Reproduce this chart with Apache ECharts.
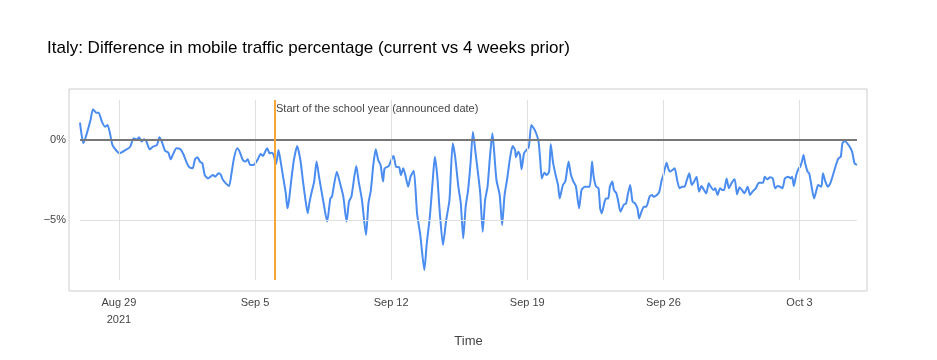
<!DOCTYPE html>
<html>
<head>
<meta charset="utf-8">
<script src="https://cdn.jsdelivr.net/npm/echarts@6/dist/echarts.min.js"></script>
<style>
html,body{margin:0;padding:0;background:#fff;}
#chart{width:937px;height:360px;}
</style>
</head>
<body>
<div id="chart"></div>
<script>
// Hours after 2021-08-27 00:00 UTC
const hours = [0,4,7,13,16,20,23,27,31,34,37,40,45,49,56,62,66,70,73,76,79,82,86,90,95,98,101,105,109,112,115,119,124,128,132,135,139,142,145,148,151,154,158,161,164,167,171,174,176,180,184,187,190,194,197,201,204,207,210,214,217,220,223,226,228,231,234,237,239,242,245,248,251,254,256,258,261,264,268,272,275,278,281,283,286,289,292,295,300,305,309,311,317,321,325,329,332,335,341,344,348,353,356,359,362,365,368,371,374,376,381,385,387,390,394,396,399,402,405,408,412,416,420,425,428,432,436,438,441,444,448,452,456,460,463,467,470,473,476,479,482,485,488,492,494,497,500,503,506,509,511,514,518,521,524,527,531,534,537,538,541,543,545,548,551,554,557,560,563,566,568,570,573,576,579,581,584,588,590,592,596,599,603,606,609,612,616,619,623,629,632,634,637,640,642,644,647,649,652,654,657,659,662,664,667,671,674,676,679,682,685,688,690,693,696,699,703,706,708,712,715,718,720,722,724,726,728,731,734,737,740,743,746,749,752,755,758,761,764,767,769,773,776,778,782,784,787,790,793,795,798,801,804,808,811,814,817,820,824,827,830,834,838,843,845,848,852,855,858,861,864,867,870,874,877,879,881,884,887,889,891,893,895,898,900,903,906,909,911,915,917,920,923,926,930,933,936,939,941,944,947,950,953,956,959];
const values = [1.08,-0.2,0.17,1.25,1.92,1.71,1.71,1.15,0.83,0.94,0.42,-0.31,-0.67,-0.83,-0.63,-0.42,0.1,0.04,0.17,-0.1,0.04,-0.1,-0.58,-0.42,-0.31,0.17,-0.1,-0.67,-0.79,-1.21,-0.88,-0.52,-0.58,-0.94,-1.46,-1.71,-1.77,-1.2,-1.08,-1.35,-1.46,-2.19,-2.4,-2.29,-2.19,-2.29,-2.08,-2.19,-2.46,-2.71,-2.88,-2.08,-1.15,-0.52,-0.73,-1.25,-1.35,-1.21,-1.56,-1.56,-1.42,-1.15,-0.88,-1.0,-0.79,-0.52,-0.83,-0.79,-0.94,-1.5,-0.63,-1.46,-2.4,-3.33,-4.27,-3.75,-2.4,-1.25,-0.38,-1.25,-2.5,-3.65,-4.58,-3.96,-3.23,-2.6,-1.35,-2.29,-3.75,-5.1,-3.65,-3.54,-1.98,-2.71,-3.54,-5.1,-3.85,-3.54,-1.63,-2.6,-3.75,-5.94,-3.96,-3.13,-1.56,-0.58,-1.25,-1.56,-2.6,-1.77,-1.63,-1.15,-1.0,-1.67,-1.71,-2.19,-1.77,-2.29,-2.92,-2.29,-1.92,-4.58,-5.94,-8.13,-6.46,-4.69,-2.08,-1.04,-2.29,-4.48,-6.56,-5.0,-3.75,-0.21,-1.04,-2.92,-3.96,-6.15,-4.17,-3.13,-1.46,0.52,-0.73,-2.4,-3.33,-5.73,-3.75,-2.92,-1.04,0.42,-0.63,-2.5,-3.44,-5.31,-3.44,-2.5,-1.04,-0.38,-0.63,-1.08,-0.73,-0.94,-1.83,-0.83,-0.63,-0.42,0.94,0.73,0.42,-0.1,-1.25,-2.4,-2.04,-2.19,-1.98,-0.25,-1.46,-2.4,-2.81,-3.65,-2.81,-2.6,-1.35,-2.19,-2.6,-2.88,-4.27,-3.13,-2.92,-2.92,-1.35,-2.29,-2.92,-3.02,-4.27,-4.58,-3.96,-3.65,-3.65,-2.92,-2.6,-3.13,-3.33,-3.75,-4.48,-4.06,-3.96,-3.44,-2.81,-3.85,-3.96,-4.27,-4.9,-4.48,-4.17,-4.17,-3.54,-3.44,-3.54,-3.44,-3.23,-2.5,-2.19,-1.77,-1.42,-1.77,-1.98,-1.88,-1.77,-2.5,-3.02,-2.92,-2.92,-2.5,-2.08,-2.81,-2.6,-2.29,-3.23,-2.88,-3.02,-3.33,-2.71,-2.88,-3.13,-3.02,-3.44,-3.02,-3.13,-3.13,-2.4,-3.02,-2.71,-2.46,-3.4,-2.96,-3.13,-3.33,-2.92,-3.44,-3.23,-3.02,-2.67,-2.67,-2.29,-2.46,-2.33,-2.4,-3.02,-2.88,-2.92,-3.02,-2.4,-2.29,-2.4,-2.29,-2.88,-2.19,-1.77,-1.67,-1.35,-0.94,-1.46,-1.98,-2.08,-2.92,-3.65,-3.13,-2.81,-2.92,-2.08,-2.6,-2.92,-2.71,-2.08,-1.56,-1.15,-1.04,-0.21,-0.05,-0.21,-0.42,-0.73,-1.46,-1.56,-1.71];
const tickDates = ['2021-08-29','2021-09-05','2021-09-12','2021-09-19','2021-09-26','2021-10-03'];
const tickLabels = ['Aug 29\n2021','Sep 5','Sep 12','Sep 19','Sep 26','Oct 3'];
const yTickValues = [0, -5];
const yTickLabels = ['0%', '\u22125%'];
const eventDate = '2021-09-06';
const eventLabel = 'Start of the school year (announced date)';
const titleText = 'Italy: Difference in mobile traffic percentage (current vs 4 weeks prior)';
const xName = 'Time';

const start = Date.UTC(2021, 7, 27, 0);
const seriesData = hours.map((h, i) => [start + h * 3600000, values[i]]);
const toTs = s => { const p = s.split('-'); return Date.UTC(+p[0], +p[1] - 1, +p[2]); };
const tickTs = tickDates.map(toTs);
const eventTs = toTs(eventDate);

const chart = echarts.init(document.getElementById('chart'), null, {renderer: 'canvas'});
const FONT = '"Liberation Sans", Arial, Helvetica, sans-serif';
chart.setOption({
  animation: false,
  backgroundColor: '#fff',
  textStyle: {fontFamily: FONT},
  title: {
    text: titleText, left: 42, top: 35,
    textStyle: {fontSize: 17, fontWeight: 'normal', color: '#000', fontFamily: FONT}
  },
  graphic: [
    {type: 'rect', z: -1, shape: {x: 69, y: 89, width: 798, height: 202}, style: {fill: 'none', stroke: '#cccccc', lineWidth: 1}},
    {type: 'text', z: 10, left: 276, top: 103, style: {text: eventLabel, fontSize: 11, fill: '#444', fontFamily: FONT}}
  ],
  grid: {left: 80, right: 80, top: 100, bottom: 80},
  xAxis: {
    type: 'value',
    min: start + hours[0] * 3600000,
    max: start + hours[hours.length - 1] * 3600000,
    name: xName, nameLocation: 'middle', nameGap: 55,
    nameTextStyle: {fontSize: 13, color: '#444', fontFamily: FONT},
    axisLine: {show: false},
    axisTick: {show: false, customValues: tickTs},
    splitLine: {show: false},
    axisLabel: {
      customValues: tickTs,
      margin: 14, fontSize: 11, color: '#444', lineHeight: 17, fontFamily: FONT,
      formatter: v => { const i = tickTs.findIndex(t => Math.abs(t - v) < 1000); return i >= 0 ? tickLabels[i] : ''; }
    }
  },
  yAxis: {
    type: 'value', min: -8.75, max: 2.5, interval: 1.25,
    axisLine: {show: false}, axisTick: {show: false}, splitLine: {show: false},
    axisLabel: {
      margin: 14, fontSize: 11, color: '#444', fontFamily: FONT,
      formatter: v => { const i = yTickValues.findIndex(t => Math.abs(t - v) < 1e-6); return i >= 0 ? yTickLabels[i] : ''; }
    }
  },
  series: [
    {
      type: 'line', data: [], z: 1, silent: true,
      markLine: {
        silent: true, symbol: 'none', animation: false,
        label: {show: false},
        lineStyle: {color: '#e0e0e0', width: 1, type: 'solid'},
        data: tickTs.map(t => ({xAxis: t})).concat([{yAxis: -5}])
      }
    },
    {
      type: 'line', data: [], z: 2, silent: true,
      markLine: {
        silent: true, symbol: 'none', animation: false, label: {show: false},
        lineStyle: {color: '#777777', width: 2, type: 'solid'},
        data: [{yAxis: 0}]
      }
    },
    {
      type: 'line', data: seriesData, z: 3, showSymbol: false, smooth: 0.2,
      lineStyle: {color: '#4a8cf0', width: 2}
    },
    {
      type: 'line', data: [], z: 4, silent: true,
      markLine: {
        silent: true, symbol: 'none', animation: false, label: {show: false},
        lineStyle: {color: '#f6a735', width: 2, type: 'solid'},
        data: [{xAxis: eventTs}]
      }
    }
  ]
});
</script>
</body>
</html>
